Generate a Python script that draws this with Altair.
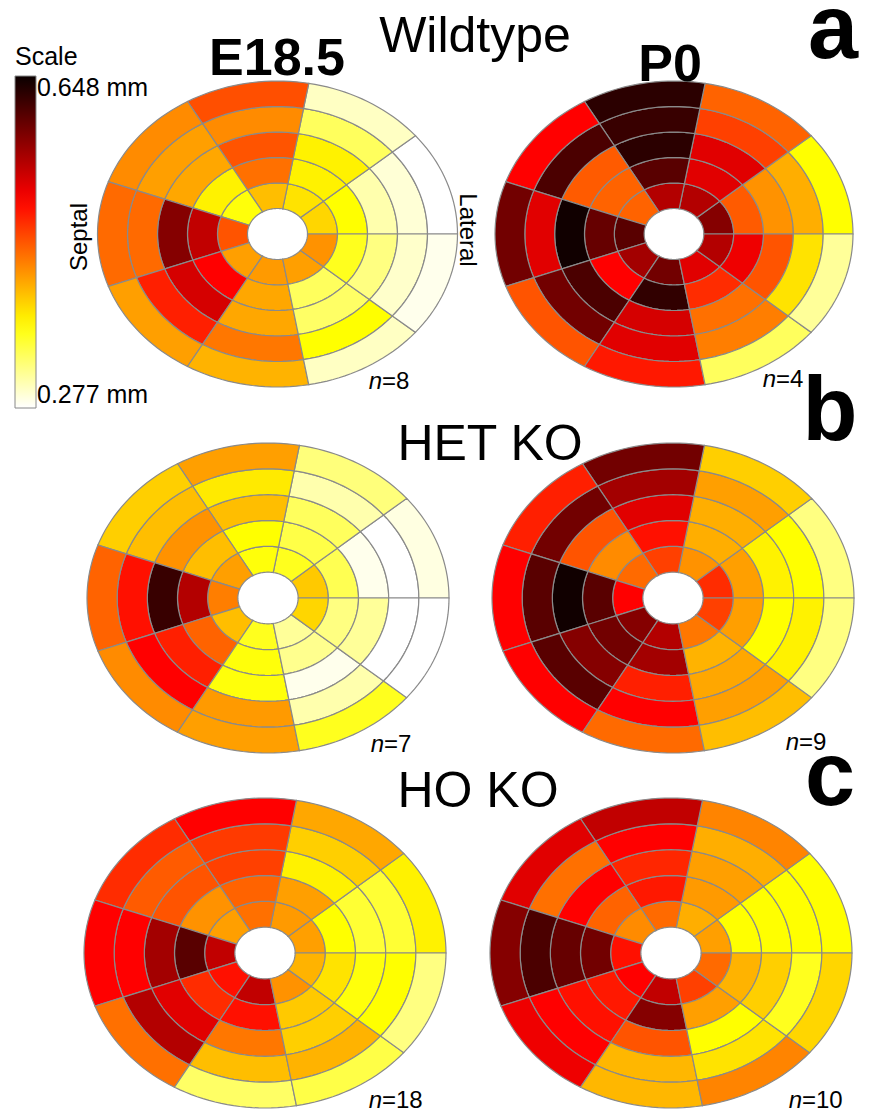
import math
import altair as alt
import pandas as pd

# ---------------- data: wall thickness (mm) ----------------
# each panel: 5 rings (inner -> outer), each ring 9 sectors,
# sectors counter-clockwise starting at 0 deg (lateral side, right)
wt_e185 = [
    [0.392, 0.385, 0.405, 0.366, 0.463, 0.422, 0.425, 0.422, 0.429],
    [0.370, 0.377, 0.448, 0.377, 0.544, 0.509, 0.418, 0.336, 0.359],
    [0.307, 0.377, 0.463, 0.418, 0.578, 0.533, 0.418, 0.333, 0.323],
    [0.292, 0.336, 0.433, 0.422, 0.451, 0.492, 0.444, 0.370, 0.296],
    [0.277, 0.299, 0.466, 0.433, 0.451, 0.422, 0.411, 0.299, 0.284],
]
wt_p0 = [
    [0.578, 0.552, 0.552, 0.455, 0.603, 0.561, 0.589, 0.526, 0.552],
    [0.459, 0.526, 0.603, 0.455, 0.596, 0.509, 0.626, 0.485, 0.518],
    [0.429, 0.526, 0.629, 0.459, 0.644, 0.611, 0.533, 0.448, 0.463],
    [0.414, 0.474, 0.622, 0.611, 0.526, 0.589, 0.526, 0.440, 0.385],
    [0.370, 0.455, 0.629, 0.509, 0.589, 0.463, 0.496, 0.336, 0.314],
]
het_e185 = [
    [0.399, 0.359, 0.366, 0.422, 0.440, 0.405, 0.359, 0.314, 0.392],
    [0.340, 0.344, 0.370, 0.405, 0.552, 0.455, 0.366, 0.318, 0.323],
    [0.284, 0.336, 0.405, 0.429, 0.622, 0.492, 0.366, 0.284, 0.314],
    [0.277, 0.307, 0.381, 0.405, 0.500, 0.509, 0.425, 0.307, 0.277],
    [0.288, 0.325, 0.422, 0.396, 0.455, 0.433, 0.422, 0.359, 0.277],
]
het_p0 = [
    [0.485, 0.429, 0.474, 0.451, 0.509, 0.578, 0.552, 0.444, 0.474],
    [0.422, 0.414, 0.500, 0.433, 0.603, 0.589, 0.561, 0.411, 0.422],
    [0.377, 0.414, 0.526, 0.463, 0.644, 0.578, 0.492, 0.418, 0.370],
    [0.370, 0.422, 0.561, 0.589, 0.603, 0.603, 0.509, 0.422, 0.377],
    [0.323, 0.396, 0.589, 0.492, 0.509, 0.509, 0.451, 0.405, 0.323],
]
ho_e185 = [
    [0.422, 0.425, 0.448, 0.422, 0.544, 0.500, 0.544, 0.429, 0.411],
    [0.370, 0.422, 0.455, 0.429, 0.603, 0.485, 0.500, 0.399, 0.385],
    [0.351, 0.377, 0.474, 0.463, 0.561, 0.526, 0.444, 0.396, 0.366],
    [0.351, 0.396, 0.477, 0.459, 0.509, 0.552, 0.405, 0.411, 0.370],
    [0.377, 0.418, 0.509, 0.485, 0.509, 0.448, 0.333, 0.344, 0.323],
]
ho_p0 = [
    [0.422, 0.414, 0.451, 0.433, 0.500, 0.509, 0.544, 0.474, 0.451],
    [0.370, 0.425, 0.496, 0.455, 0.589, 0.496, 0.578, 0.422, 0.411],
    [0.370, 0.422, 0.488, 0.509, 0.596, 0.500, 0.463, 0.370, 0.396],
    [0.370, 0.414, 0.509, 0.448, 0.611, 0.509, 0.409, 0.385, 0.359],
    [0.370, 0.437, 0.544, 0.526, 0.578, 0.518, 0.409, 0.437, 0.392],
]

panel_names = ["WT E18.5", "WT P0", "HET E18.5", "HET P0", "HO E18.5", "HO P0"]
panel_values = [wt_e185, wt_p0, het_e185, het_p0, ho_e185, ho_p0]
n_labels = ["8", "4", "7", "9", "18", "10"]

# layout (page pixels): centre and semi-axes of each bullseye
panel_cx = [277.5, 674, 268, 673, 265, 671]
panel_cy = [234, 234, 598, 598, 953, 953]
panel_rx = [180, 179, 181, 181, 181, 181]
panel_ry = [153, 153, 155, 155, 155, 155]

scale_min, scale_max = 0.277, 0.648

# ---------------- geometry of the cells ----------------
def pt(i, frac, deg):
    a = math.radians(deg)
    return [panel_cx[i] + panel_rx[i] * frac * math.cos(a),
            panel_cy[i] - panel_ry[i] * frac * math.sin(a)]

features = []
for i, vals in enumerate(panel_values):
    for ri, ring in enumerate(vals):
        f0, f1 = (ri + 1) / 6, (ri + 2) / 6
        for k, v in enumerate(ring):
            a0, a1 = 40 * k, 40 * (k + 1)
            st = 20
            outer = [pt(i, f1, a0 + (a1 - a0) * s / st) for s in range(st + 1)]
            inner = [pt(i, f0, a1 - (a1 - a0) * s / st) for s in range(st + 1)]
            coords = outer + inner + [outer[0]]
            features.append({
                "type": "Feature",
                "geometry": {"type": "Polygon", "coordinates": [coords]},
                "properties": {"value": v, "panel": panel_names[i],
                               "ring": ri + 1, "sector": k + 1},
            })

proj = dict(type="identity", scale=1, translate=[-8, -8])
FONT = "Liberation Sans"

span = scale_max - scale_min
color_scale = alt.Scale(
    domain=[scale_min, scale_min + 0.25 * span, scale_min + 0.625 * span, scale_max],
    range=["#ffffff", "#ffff00", "#ff0000", "#0a0000"],
    interpolate="rgb", clamp=True,
)

cells = alt.Chart(alt.Data(values=features)).mark_geoshape(
    stroke="#8a8a8a", strokeWidth=1.2
).encode(
    color=alt.Color(
        "properties.value:Q", scale=color_scale,
        legend=alt.Legend(
            title="Scale", orient="none", legendX=7, legendY=37,
            direction="vertical", gradientLength=332, gradientThickness=21,
            values=[scale_min, scale_max],
            labelExpr="format(datum.value, '.3f') + ' mm'",
            labelFont=FONT, labelFontSize=25, labelColor="black",
            labelOffset=1, labelOverlap=False,
            titleFont=FONT, titleFontSize=25, titleFontWeight="normal",
            titleColor="black", titlePadding=6, padding=0,
            gradientStrokeColor="#888888", gradientStrokeWidth=1,
        ),
    )
).project(**proj)

# ---------------- texts ----------------
def text_layer(rows, **mark):
    df = pd.DataFrame(rows, columns=["text", "x", "y"])
    return alt.Chart(df).mark_text(font=FONT, color="black", **mark).encode(
        longitude="x:Q", latitude="y:Q", text="text:N"
    ).project(**proj)

titles_norm = [["Wildtype", 475, 52], ["HET KO", 490, 460], ["HO KO", 478, 807]]
titles_bold = [["E18.5", 277, 75], ["P0", 670, 81]]
letters = [["a", 833, 58], ["b", 830, 440], ["c", 830, 805]]

n_x = [382, 776, 384, 799, 382, 802]
n_y = [389, 387, 752, 750, 1108, 1108]
n_italic = [["n", n_x[i], n_y[i]] for i in range(6)]
n_rest = [["=" + n_labels[i], n_x[i], n_y[i]] for i in range(6)]

layers = [
    cells,
    text_layer(titles_norm, fontSize=50, align="center", baseline="alphabetic"),
    text_layer(titles_bold, fontSize=52, fontWeight="bold", align="center", baseline="alphabetic"),
    text_layer(letters, fontSize=90, fontWeight="bold", align="center", baseline="alphabetic"),
    text_layer([["Septal", 80, 237]], fontSize=24, angle=270, align="center", baseline="middle"),
    text_layer([["Lateral", 467, 230]], fontSize=24, angle=90, align="center", baseline="middle"),
    text_layer(n_italic, fontSize=24, fontStyle="italic", align="right", baseline="alphabetic"),
    text_layer(n_rest, fontSize=24, align="left", baseline="alphabetic"),
]

chart = alt.layer(*layers).properties(
    width=858, height=1104,
    autosize=alt.AutoSizeParams(type="none"),
    padding=0,
).configure_view(stroke=None)

chart.save("out.html", embed_options={"renderer": "svg", "actions": False})
